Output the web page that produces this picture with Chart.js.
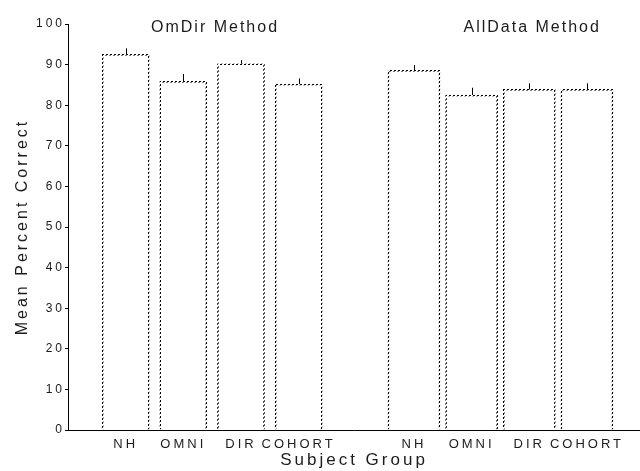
<!DOCTYPE html>
<html><head><meta charset="utf-8">
<script src="https://cdn.jsdelivr.net/npm/chart.js@4.4.1/dist/chart.umd.min.js"></script>
<style>html,body{margin:0;padding:0;background:#fff;}canvas{display:block;}</style>
</head><body>
<canvas id="c" width="640" height="471"></canvas>
<script>
// ---- data ----
const categories = ['NH', 'OMNI', 'DIR', 'COHORT', '', 'NH', 'OMNI', 'DIR', 'COHORT'];
const omDirValues = [92.5, 85.9, 90.2, 85.2, null, null, null, null, null];
const allDataValues = [null, null, null, null, null, 88.6, 82.5, 83.9, 83.9];
const errorUp = [1.5, 1.8, 0.9, 1.4, null, 1.3, 1.8, 1.5, 1.5];
const groupNames = ['OmDir Method', 'AllData Method'];
const yTickValues = [0, 10, 20, 30, 40, 50, 60, 70, 80, 90, 100];

const INK = '#000000';
const TXT = '#1c1c1c';
const FONT = "'Liberation Sans', Arial, sans-serif";

function dotPattern(ctx) {
  const p = document.createElement('canvas');
  p.width = 4; p.height = 4;
  const c = p.getContext('2d');
  c.fillStyle = INK;
  for (let x = 0; x < 4; x++) for (let y = 0; y < 4; y++) if ((x + y) % 4 < 2) c.fillRect(x, y, 1, 1);
  return ctx.createPattern(p, 'repeat');
}

const canvas = document.getElementById('c');
const ctx0 = canvas.getContext('2d');
const pat = dotPattern(ctx0);

function toPoints(arr) {
  return arr.map((v, i) => ({ x: i + 1, y: v })).filter(p => p.y !== null);
}

const spacingPlugin = {
  id: 'spacing',
  beforeDraw(chart) { chart.ctx.letterSpacing = '3px'; }
};

const errPlugin = {
  id: 'errbars',
  afterDatasetsDraw(chart) {
    const { ctx, scales: { x, y } } = chart;
    ctx.save();
    ctx.strokeStyle = INK; ctx.lineWidth = 1;
    const all = omDirValues.map((v, i) => v !== null ? v : allDataValues[i]);
    all.forEach((v, i) => {
      if (v === null) return;
      const px = Math.round(x.getPixelForValue(i + 1)) + 0.5;
      ctx.beginPath();
      ctx.moveTo(px, y.getPixelForValue(v));
      ctx.lineTo(px, y.getPixelForValue(v + errorUp[i]));
      ctx.stroke();
    });
    ctx.restore();
  }
};

const groupLabelPlugin = {
  id: 'groupLabels',
  afterDraw(chart, args, opts) {
    const { ctx, scales: { x } } = chart;
    ctx.save();
    ctx.letterSpacing = '2px';
    ctx.font = '16px ' + FONT;
    ctx.fillStyle = TXT;
    ctx.textAlign = 'center';
    ctx.textBaseline = 'middle';
    groupNames.forEach((name, i) => {
      ctx.fillText(name, x.getPixelForValue(opts.at[i]), opts.y);
    });
    ctx.restore();
  }
};

new Chart(canvas, {
  type: 'bar',
  data: {
    datasets: [
      { label: groupNames[0], data: toPoints(omDirValues), barThickness: 47, grouped: false,
        backgroundColor: '#ffffff', borderColor: pat, borderWidth: 1.5 },
      { label: groupNames[1], data: toPoints(allDataValues), barThickness: 52, grouped: false,
        backgroundColor: '#ffffff', borderColor: pat, borderWidth: 1.5 }
    ]
  },
  options: {
    responsive: false,
    animation: false,
    devicePixelRatio: 1,
    layout: { padding: { top: 24, left: 0, right: 0, bottom: 0 } },
    plugins: {
      legend: { display: false },
      tooltip: { enabled: false },
      groupLabels: { at: [2.55, 8.05], y: 28 }
    },
    scales: {
      x: {
        type: 'linear',
        offset: false,
        min: 0, max: 9.92,
        afterBuildTicks(scale) { scale.ticks = categories.map((c, i) => ({ value: i + 1 })); },
        afterFit(scale) { scale.height = 41; },
        grid: { display: false, drawTicks: false, offset: false },
        border: { display: true, color: INK, width: 1, dash: [2, 2] },
        ticks: {
          autoSkip: false, maxRotation: 0, minRotation: 0, padding: 7,
          color: TXT, font: { family: FONT, size: 13 },
          callback: (v) => categories[Math.round(v) - 1] || ''
        },
        title: { display: true, text: 'Subject Group', color: TXT,
          font: { family: FONT, size: 17 }, padding: { top: 0, bottom: 0 } }
      },
      y: {
        min: 0, max: 100,
        afterBuildTicks(scale) { scale.ticks = yTickValues.map(v => ({ value: v })); },
        afterFit(scale) { scale.width = 68; },
        grid: { drawOnChartArea: false, drawTicks: true, tickLength: 3, color: INK },
        border: { display: true, color: INK, width: 1, dash: [2, 2] },
        ticks: { padding: 0, color: TXT, font: { family: FONT, size: 12 } },
        title: { display: true, text: 'Mean Percent Correct', color: TXT,
          font: { family: FONT, size: 16 }, padding: { top: 13, bottom: 0 } }
      }
    }
  },
  plugins: [spacingPlugin, errPlugin, groupLabelPlugin]
});
</script>
</body></html>
